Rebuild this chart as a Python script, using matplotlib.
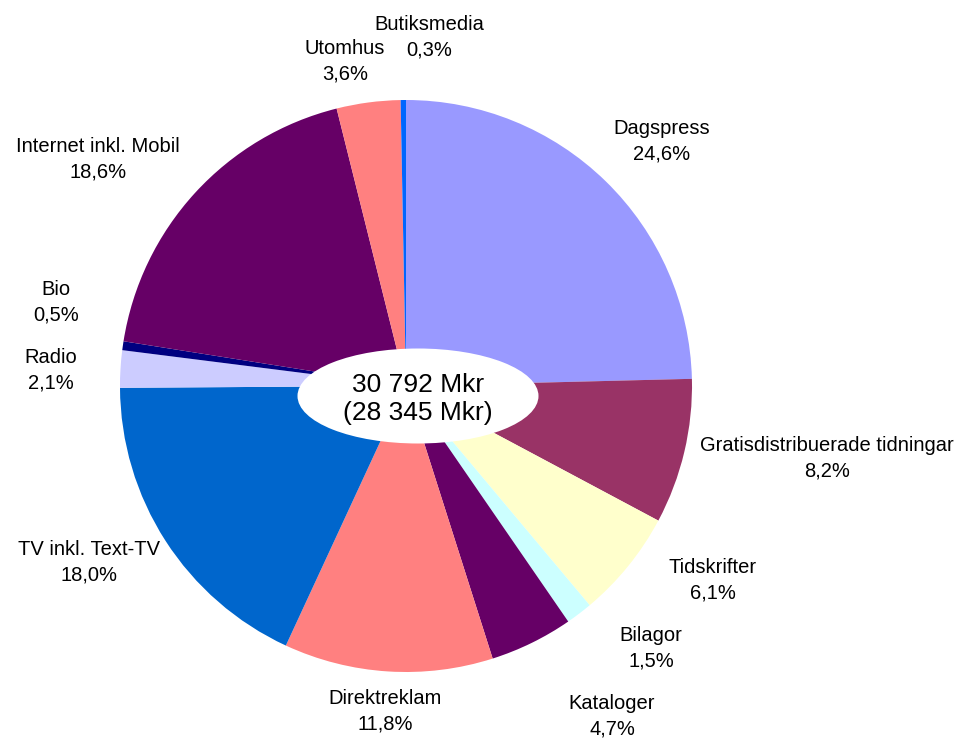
import matplotlib
matplotlib.use("Agg")
import matplotlib.pyplot as plt
from matplotlib.patches import Ellipse

plt.rcParams["font.family"] = ["Liberation Sans", "DejaVu Sans"]

categories = [
    "Dagspress", "Gratisdistribuerade tidningar", "Tidskrifter", "Bilagor",
    "Kataloger", "Direktreklam", "TV inkl. Text-TV", "Radio", "Bio",
    "Internet inkl. Mobil", "Utomhus", "Butiksmedia",
]
shares = [24.6, 8.2, 6.1, 1.5, 4.7, 11.8, 18.0, 2.1, 0.5, 18.6, 3.6, 0.3]
colors = [
    "#9999FF", "#993366", "#FFFFCC", "#CCFFFF", "#660066", "#FF8080",
    "#0066CC", "#CCCCFF", "#000080", "#660066", "#FF8080", "#0066FF",
]
total_label = "30 792 Mkr\n(28 345 Mkr)"

# layout (pixel positions, y measured from top)
W, H = 978, 738
pie_center = (406, 386)
pie_radius = 286
label_pos = [
    (662, 141), (827, 458), (713, 580), (651, 648), (612, 716), (385, 711),
    (89, 562), (51, 370), (56, 302), (98, 159), (345, 61), (429, 37),
]

fig = plt.figure(figsize=(W / 100, H / 100), dpi=100)
ax = fig.add_axes([0, 0, 1, 1])

ax.pie(shares, colors=colors, startangle=90, counterclock=False,
       center=(pie_center[0], H - pie_center[1]), radius=pie_radius,
       wedgeprops=dict(linewidth=0), frame=True)
ax.set_xlim(0, W)
ax.set_ylim(0, H)
ax.set_aspect("equal")
ax.axis("off")

for name, val, (x, y) in zip(categories, shares, label_pos):
    pct = f"{val:.1f}%".replace(".", ",")
    ax.text(x, H - y, f"{name}\n{pct}", ha="center", va="center",
            fontsize=14.5, linespacing=1.45, color="black")

ax.add_patch(Ellipse((418, H - 396), 241, 95, facecolor="white",
                     edgecolor="none", zorder=5))
ax.text(418, H - 399, total_label, ha="center", va="center", fontsize=19,
        linespacing=1.2, zorder=6)

fig.savefig("out.png", dpi=100)
